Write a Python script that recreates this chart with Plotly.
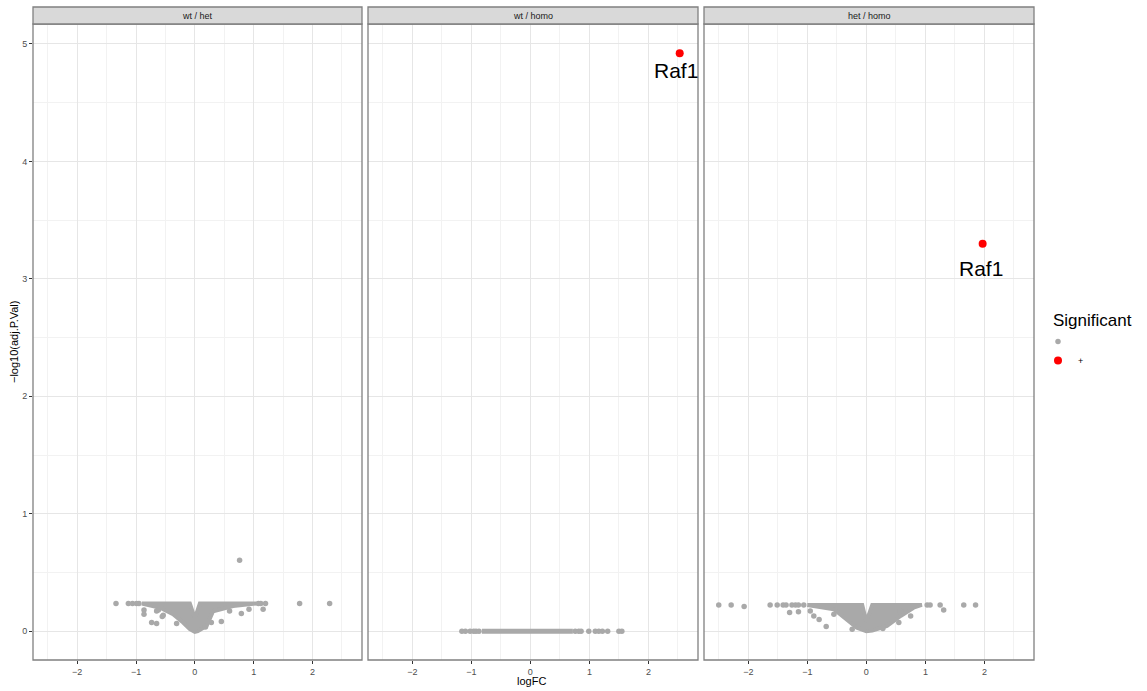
import plotly.graph_objects as go

# ---- data -------------------------------------------------------------
panels = ["wt / het", "wt / homo", "het / homo"]
x_ticks = [-2, -1, 0, 1, 2]
y_ticks = [0, 1, 2, 3, 4, 5]

# Dense core of each volcano cloud (outline of the overlapping grey points)
wt_het_cloud_x = [-0.90, -0.085, 0.0, 0.085, 1.05, 0.65, 0.31, 0.20, 0.05, 0.0, -0.085, -0.20, -0.37, -0.59, -0.90]
wt_het_cloud_y = [0.236, 0.236, 0.11, 0.236, 0.236, 0.215, 0.17, 0.045, 0.0, -0.005, 0.017, 0.074, 0.145, 0.20, 0.236]

wt_homo_cloud_x = [-0.82, 0.72]
wt_homo_cloud_y = [0.0, 0.0]

het_homo_cloud_x = [-1.00, -0.07, 0.0, 0.10, 0.94, 0.80, 0.58, 0.35, 0.10, 0.0, -0.16, -0.33, -0.55, -1.00]
het_homo_cloud_y = [0.224, 0.224, 0.08, 0.224, 0.224, 0.20, 0.13, 0.045, 0.005, 0.0, 0.03, 0.10, 0.187, 0.224]

# Individual (non-significant) genes outside the dense core
wt_het_x = [-1.34, -1.13, -1.06, -0.99, -0.95, 1.08, 1.12, 1.20, 1.78, 2.29,
            -0.864, -0.864, -0.65, -0.62, -0.537, -0.554, -0.734, -0.65, -0.31,
            0.45, 0.28, 0.18, 0.79, 0.92, 1.16, 0.59, 0.76]
wt_het_y = [0.236, 0.236, 0.236, 0.236, 0.236, 0.236, 0.236, 0.236, 0.236, 0.236,
            0.181, 0.145, 0.173, 0.181, 0.136, 0.125, 0.074, 0.065, 0.065,
            0.082, 0.074, 0.037, 0.15, 0.187, 0.187, 0.173, 0.605]

wt_homo_x = [-1.16, -1.10, -1.02, -0.96, -0.92, -0.87, 0.76, 0.82, 0.86, 0.99,
             1.10, 1.16, 1.22, 1.31, 1.50, 1.55]
wt_homo_y = [0.0, 0.0, 0.0, 0.0, 0.0, 0.0, 0.0, 0.0, 0.0, 0.0,
             0.0, 0.0, 0.0, 0.0, 0.0, 0.0]

het_homo_x = [-2.50, -2.29, -1.63, -1.51, -1.41, -1.36, -1.26, -1.20, -1.15, -1.06,
              1.03, 1.08, 1.25, 1.65, 1.85, -2.07, 1.31,
              -1.30, -1.15, -0.95, -0.89, -0.80, -0.68, -0.55, -0.24,
              0.55, 0.75, 0.58, 0.28]
het_homo_y = [0.224, 0.224, 0.224, 0.224, 0.224, 0.224, 0.224, 0.224, 0.224, 0.224,
              0.224, 0.224, 0.224, 0.224, 0.224, 0.21, 0.18,
              0.159, 0.165, 0.173, 0.13, 0.10, 0.04, 0.145, 0.017,
              0.074, 0.13, 0.173, 0.023]

# Significant gene per contrast
sig_gene = ["Raf1", "Raf1"]
sig_panel = [2, 3]
sig_x = [2.53, 1.97]
sig_y = [4.92, 3.30]
label_shift_x = [-4, -2]
label_shift_y = [-17, -25]

# ---- styling ----------------------------------------------------------
FONT = "Liberation Sans, Arial, Helvetica, sans-serif"
GREY = "#A9A9A9"
RED = "#FF0000"
W, H = 1147, 691

x_domains = [(33 / W, 362 / W), (368 / W, 698 / W), (704 / W, 1034 / W)]
y_domain = (1 - 660 / H, 1 - 24 / H)
strip_top = 1 - 7 / H
x_range = [-2.75, 2.84]
y_range = [-0.245, 5.17]

fig = go.Figure()

clouds = [(wt_het_cloud_x, wt_het_cloud_y), (wt_homo_cloud_x, wt_homo_cloud_y),
          (het_homo_cloud_x, het_homo_cloud_y)]
singles = [(wt_het_x, wt_het_y), (wt_homo_x, wt_homo_y), (het_homo_x, het_homo_y)]

for i in range(3):
    xa = "x" if i == 0 else f"x{i + 1}"
    ya = "y" if i == 0 else f"y{i + 1}"
    cx, cy = clouds[i]
    if len(cx) > 2:
        fig.add_trace(go.Scatter(x=cx, y=cy, mode="lines", fill="toself",
                                 fillcolor=GREY, line=dict(color=GREY, width=4),
                                 xaxis=xa, yaxis=ya, showlegend=False, hoverinfo="skip"))
    else:
        fig.add_trace(go.Scatter(x=cx, y=cy, mode="lines",
                                 line=dict(color=GREY, width=5),
                                 xaxis=xa, yaxis=ya, showlegend=False, hoverinfo="skip"))
    sx, sy = singles[i]
    fig.add_trace(go.Scatter(x=sx, y=sy, mode="markers",
                             marker=dict(color=GREY, size=5.5, line=dict(width=0)),
                             xaxis=xa, yaxis=ya, name=" ", legendgroup="ns",
                             showlegend=(i == 0)))

for k in range(len(sig_gene)):
    p = sig_panel[k]
    xa = "x" if p == 1 else f"x{p}"
    ya = "y" if p == 1 else f"y{p}"
    fig.add_trace(go.Scatter(x=[sig_x[k]], y=[sig_y[k]], mode="markers",
                             marker=dict(color=RED, size=8, line=dict(width=0)),
                             xaxis=xa, yaxis=ya, name="+", legendgroup="sig",
                             showlegend=(k == 0)))
    fig.add_annotation(x=sig_x[k], y=sig_y[k], xref=xa, yref=ya, text=sig_gene[k],
                       showarrow=False, xshift=label_shift_x[k], yshift=label_shift_y[k],
                       xanchor="center", yanchor="middle",
                       font=dict(family=FONT, size=21, color="#000000"))

layout = {}
for i in range(3):
    xkey = "xaxis" if i == 0 else f"xaxis{i + 1}"
    ykey = "yaxis" if i == 0 else f"yaxis{i + 1}"
    ya = "y" if i == 0 else f"y{i + 1}"
    xa = "x" if i == 0 else f"x{i + 1}"
    layout[xkey] = dict(domain=x_domains[i], range=x_range, anchor=ya,
                        tickvals=x_ticks, ticks="outside", ticklen=3, tickcolor="#333333",
                        tickfont=dict(family=FONT, size=9, color="#4D4D4D"),
                        showgrid=True, gridcolor="#E6E6E6", gridwidth=1,
                        minor=dict(dtick=0.5, tick0=-2.5, showgrid=True, gridcolor="#F2F2F2", gridwidth=0.7),
                        zeroline=False, showline=False, fixedrange=True)
    layout[ykey] = dict(domain=y_domain, range=y_range, anchor=xa,
                        tickvals=y_ticks, ticks="outside" if i == 0 else "",
                        ticklen=3, tickcolor="#333333", showticklabels=(i == 0),
                        tickfont=dict(family=FONT, size=9, color="#4D4D4D"),
                        showgrid=True, gridcolor="#E6E6E6", gridwidth=1,
                        minor=dict(dtick=0.5, tick0=0.5, showgrid=True, gridcolor="#F2F2F2", gridwidth=0.7),
                        zeroline=False, showline=False, fixedrange=True)

shapes = []
annotations = list(fig.layout.annotations)
for i in range(3):
    x0, x1 = x_domains[i]
    # panel border
    shapes.append(dict(type="rect", xref="paper", yref="paper", x0=x0, x1=x1,
                       y0=y_domain[0], y1=y_domain[1], line=dict(color="#808080", width=1.3),
                       fillcolor="rgba(0,0,0,0)", layer="above"))
    # facet strip
    shapes.append(dict(type="rect", xref="paper", yref="paper", x0=x0, x1=x1,
                       y0=y_domain[1], y1=strip_top, line=dict(color="#808080", width=1.3),
                       fillcolor="#D9D9D9", layer="above"))
    annotations.append(dict(text=panels[i], xref="paper", yref="paper",
                            x=(x0 + x1) / 2, y=(y_domain[1] + strip_top) / 2,
                            xanchor="center", yanchor="middle",
                            showarrow=False, font=dict(family=FONT, size=9, color="#1A1A1A")))

annotations.append(dict(text="logFC", xref="paper", yref="paper", x=531 / W, y=1 - 681 / H,
                        xanchor="center", yanchor="middle",
                        showarrow=False, font=dict(family=FONT, size=11, color="#000000")))
annotations.append(dict(text="\u2212log10(adj.P.Val)", xref="paper", yref="paper",
                        x=14 / W, y=1 - 342 / H, textangle=-90,
                        xanchor="center", yanchor="middle",
                        showarrow=False, font=dict(family=FONT, size=11, color="#000000")))
# legend heading
annotations.append(dict(text="Significant", xref="paper", yref="paper",
                        x=1051 / W, y=1 - 320 / H, xanchor="left", yanchor="middle",
                        showarrow=False, font=dict(family=FONT, size=17, color="#000000")))

fig.update_layout(**layout)
fig.update_layout(
    width=W, height=H,
    margin=dict(l=0, r=0, t=0, b=0),
    paper_bgcolor="white", plot_bgcolor="white",
    shapes=shapes, annotations=annotations,
    font=dict(family=FONT),
    legend=dict(x=1038 / W, y=1 - 327 / H, xanchor="left", yanchor="top",
                font=dict(family=FONT, size=9, color="#000000"),
                itemwidth=30, tracegroupgap=0, bgcolor="rgba(0,0,0,0)"),
)

fig.write_html("out.html")
